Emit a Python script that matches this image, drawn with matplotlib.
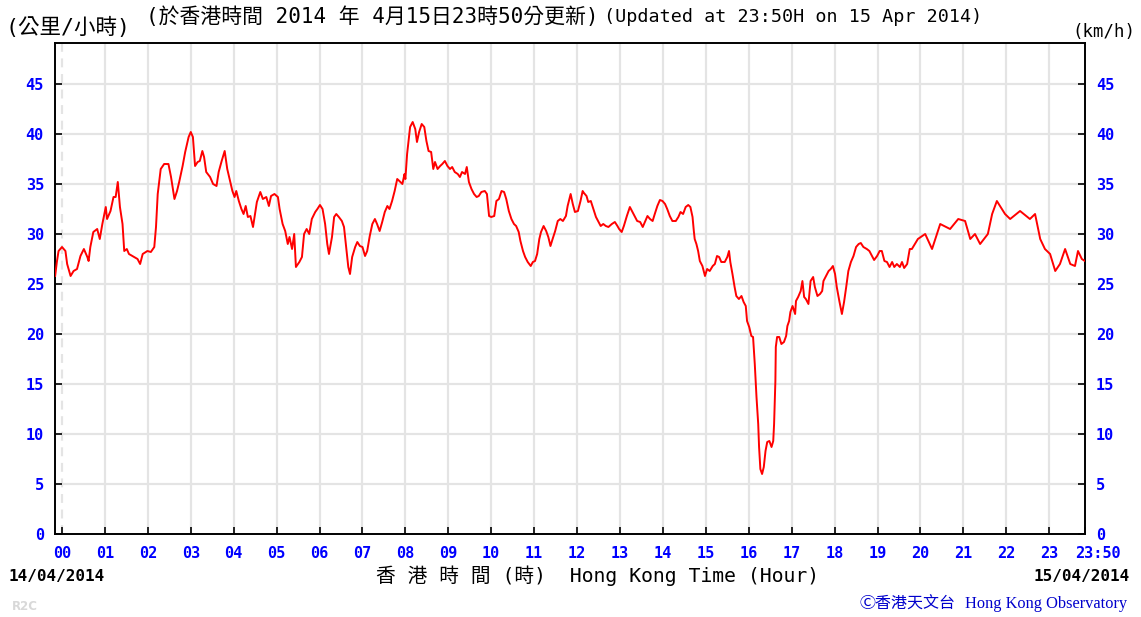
import matplotlib
matplotlib.use("Agg")
import matplotlib.pyplot as plt
from matplotlib.transforms import ScaledTranslation

# ---------------- data (hours since 00:00 14/04/2014, km/h) ----------------
hours = [
    -0.16, -0.12, -0.08, 0.00, 0.08, 0.12, 0.20, 0.27, 0.35, 0.43, 0.51, 0.59, 0.62, 0.66, 0.73, 0.82, 0.88, 0.94,
    1.02, 1.05, 1.13, 1.20, 1.25, 1.30, 1.35, 1.41, 1.45, 1.51, 1.56, 1.68, 1.76, 1.82, 1.88, 1.99,
    2.07, 2.15, 2.19, 2.23, 2.30, 2.38, 2.48, 2.54, 2.62, 2.68, 2.73, 2.81, 2.87, 2.95,
    3.00, 3.05, 3.10, 3.16, 3.21, 3.27, 3.31, 3.36, 3.45, 3.52, 3.60, 3.65, 3.72, 3.79, 3.85, 3.92, 3.97,
    4.02, 4.06, 4.12, 4.18, 4.23, 4.28, 4.33, 4.39, 4.45, 4.49, 4.54, 4.62, 4.68, 4.76, 4.82, 4.87, 4.95,
    5.03, 5.07, 5.14, 5.20, 5.26, 5.30, 5.36, 5.41, 5.45, 5.53, 5.59, 5.64, 5.70, 5.76, 5.82, 5.90, 5.95,
    6.01, 6.07, 6.13, 6.18, 6.22, 6.29, 6.34, 6.39, 6.45, 6.52, 6.57, 6.63, 6.67, 6.71, 6.76, 6.83, 6.88, 6.94,
    7.00, 7.06, 7.11, 7.17, 7.23, 7.29, 7.34, 7.40, 7.46, 7.52, 7.58, 7.63, 7.69, 7.75, 7.81, 7.86, 7.93, 7.98,
    8.00, 8.04, 8.08, 8.11, 8.17, 8.23, 8.27, 8.32, 8.38, 8.44, 8.49, 8.54, 8.60, 8.65, 8.69, 8.75, 8.81, 8.86, 8.92, 8.98,
    9.04, 9.09, 9.15, 9.22, 9.27, 9.32, 9.39, 9.43, 9.48, 9.54, 9.60, 9.66, 9.71, 9.77, 9.85, 9.90, 9.95,
    10.00, 10.07, 10.12, 10.18, 10.24, 10.30, 10.35, 10.41, 10.47, 10.53, 10.58, 10.64, 10.68, 10.74, 10.79, 10.85, 10.92, 10.97,
    11.02, 11.07, 11.12, 11.16, 11.22, 11.28, 11.33, 11.38, 11.43, 11.49, 11.55, 11.61, 11.67, 11.74, 11.78, 11.85, 11.90, 11.95,
    12.02, 12.08, 12.13, 12.16, 12.22, 12.26, 12.32, 12.38, 12.44, 12.50, 12.55, 12.61, 12.67, 12.73, 12.81, 12.88, 12.94, 12.98,
    13.04, 13.09, 13.16, 13.23, 13.29, 13.35, 13.40, 13.47, 13.53, 13.58, 13.64, 13.70, 13.76, 13.81, 13.87, 13.93, 13.99,
    14.05, 14.10, 14.16, 14.22, 14.30, 14.36, 14.41, 14.47, 14.53, 14.59, 14.64, 14.69, 14.72, 14.74, 14.78, 14.82, 14.86, 14.92, 14.98,
    15.03, 15.09, 15.16, 15.21, 15.26, 15.31, 15.36, 15.44, 15.50, 15.54, 15.57, 15.62, 15.67, 15.71, 15.77, 15.83, 15.88, 15.93, 15.96,
    16.01, 16.06, 16.10, 16.14, 16.18, 16.22, 16.24, 16.27, 16.31, 16.35, 16.39, 16.43, 16.48, 16.53, 16.57, 16.59, 16.62, 16.63,
    16.66, 16.71, 16.76, 16.82, 16.87, 16.90, 16.94, 16.97,
    17.02, 17.08, 17.10, 17.15, 17.21, 17.25, 17.29, 17.33, 17.39, 17.44, 17.50, 17.54, 17.60, 17.66, 17.71, 17.74, 17.80, 17.86, 17.91, 17.96,
    18.01, 18.05, 18.11, 18.17, 18.22, 18.27, 18.32, 18.38, 18.44, 18.50, 18.56, 18.61, 18.67, 18.75, 18.81, 18.87, 18.92, 18.99,
    19.05, 19.10, 19.16, 19.22, 19.28, 19.34, 19.39, 19.45, 19.52, 19.57, 19.62, 19.69, 19.75, 19.80, 19.94,
    20.11, 20.27, 20.46, 20.69, 20.88, 21.04, 21.16, 21.27, 21.39, 21.57, 21.67, 21.78, 21.97,
    22.09, 22.32, 22.55, 22.67, 22.79, 22.90, 23.02, 23.14, 23.25, 23.37, 23.49, 23.60, 23.67, 23.76, 23.83,
]
speed = [
    25.8, 27.2, 28.3, 28.7, 28.3, 27.0, 25.8, 26.3, 26.5, 27.8, 28.5, 27.7, 27.3, 28.7, 30.2, 30.5, 29.5, 31.0,
    32.7, 31.5, 32.3, 33.7, 33.7, 35.2, 32.7, 31.0, 28.3, 28.5, 28.0, 27.7, 27.5, 27.0, 28.0, 28.3,
    28.2, 28.7, 30.7, 34.0, 36.5, 37.0, 37.0, 35.7, 33.5, 34.3, 35.2, 36.8, 38.2, 39.7,
    40.2, 39.7, 36.8, 37.2, 37.3, 38.3, 37.7, 36.2, 35.7, 35.0, 34.8, 36.2, 37.3, 38.3, 36.5, 35.2, 34.3,
    33.7, 34.3, 33.3, 32.5, 32.0, 32.8, 31.7, 31.8, 30.7, 31.8, 33.2, 34.2, 33.5, 33.7, 32.8, 33.8, 34.0,
    33.7, 32.5, 31.0, 30.3, 29.0, 29.7, 28.5, 30.0, 26.7, 27.2, 27.7, 30.0, 30.5, 30.0, 31.5, 32.2, 32.5,
    32.9, 32.5, 31.0, 29.0, 28.0, 29.7, 31.7, 32.0, 31.7, 31.3, 30.7, 28.3, 26.7, 26.0, 27.7, 28.7, 29.2, 28.8,
    28.7, 27.8, 28.3, 29.8, 31.0, 31.5, 31.0, 30.3, 31.2, 32.2, 32.8, 32.5, 33.3, 34.3, 35.5, 35.3, 35.0, 36.0,
    35.5, 38.0, 39.5, 40.7, 41.2, 40.5, 39.2, 40.2, 41.0, 40.7, 39.3, 38.3, 38.2, 36.5, 37.2, 36.5, 36.8, 37.0, 37.3, 36.8,
    36.5, 36.7, 36.2, 36.0, 35.7, 36.2, 36.0, 36.7, 35.2, 34.5, 34.0, 33.7, 33.8, 34.2, 34.3, 34.0, 31.8,
    31.7, 31.8, 33.3, 33.5, 34.3, 34.2, 33.5, 32.3, 31.5, 31.0, 30.8, 30.2, 29.3, 28.3, 27.7, 27.2, 26.8, 27.2,
    27.3, 28.0, 29.5, 30.2, 30.8, 30.3, 29.7, 28.8, 29.5, 30.3, 31.3, 31.5, 31.3, 31.8, 32.8, 34.0, 33.0, 32.2,
    32.3, 33.3, 34.3, 34.1, 33.8, 33.2, 33.3, 32.5, 31.7, 31.2, 30.8, 31.0, 30.8, 30.7, 31.0, 31.2, 30.8, 30.5,
    30.2, 30.8, 31.8, 32.7, 32.2, 31.7, 31.3, 31.2, 30.7, 31.2, 31.8, 31.5, 31.3, 32.0, 32.8, 33.4, 33.3,
    33.0, 32.5, 31.8, 31.3, 31.3, 31.7, 32.2, 32.0, 32.7, 32.9, 32.7, 31.7, 30.3, 29.5, 29.0, 28.3, 27.3, 26.8, 25.8,
    26.5, 26.3, 26.8, 27.0, 27.8, 27.7, 27.2, 27.2, 27.7, 28.3, 27.2, 26.0, 24.7, 23.8, 23.5, 23.8, 23.2, 22.8, 21.3,
    20.7, 19.8, 19.7, 17.0, 13.7, 11.0, 8.7, 6.5, 6.0, 6.7, 8.3, 9.2, 9.3, 8.7, 9.3, 11.0, 15.3, 18.7,
    19.7, 19.7, 19.0, 19.2, 19.8, 20.8, 21.3, 22.2,
    22.8, 22.0, 23.3, 23.7, 24.3, 25.3, 23.7, 23.5, 23.0, 25.3, 25.7, 24.7, 23.8, 24.0, 24.3, 25.3, 25.8, 26.3, 26.5, 26.8,
    26.0, 24.7, 23.3, 22.0, 23.2, 24.7, 26.3, 27.2, 27.8, 28.7, 29.0, 29.1, 28.7, 28.5, 28.3, 27.8, 27.4, 27.8,
    28.3, 28.3, 27.3, 27.2, 26.7, 27.2, 26.7, 27.0, 26.7, 27.2, 26.6, 27.0, 28.5, 28.5, 29.5,
    30.0, 28.5, 31.0, 30.5, 31.5, 31.3, 29.5, 30.0, 29.0, 30.0, 32.0, 33.3, 32.0,
    31.5, 32.3, 31.5, 32.0, 29.5, 28.5, 28.0, 26.3, 27.0, 28.5, 27.0, 26.8, 28.3, 27.5, 27.3,
]

hour_ticks = list(range(24)) + [23 + 50 / 60]
hour_labels = ["%02d" % h for h in range(24)] + ["23:50"]
y_ticks = [0, 5, 10, 15, 20, 25, 30, 35, 40, 45]

# ---------------- figure ----------------
W, H = 1141, 617
fig = plt.figure(figsize=(W / 100, H / 100), dpi=100)
fig.patch.set_facecolor("white")
L, R, T, B = 55, 1085, 43, 534
ax = fig.add_axes([L / W, 1 - B / H, (R - L) / W, (B - T) / H])
ax.set_xlim(-0.163, 23 + 50 / 60)
ax.set_ylim(0, 49.1)

grid_c = "#e4e4e4"
for y in y_ticks[1:]:
    ax.axhline(y, color=grid_c, lw=1.6, zorder=0)
for h in range(1, 24):
    ax.axvline(h, color=grid_c, lw=1.6, zorder=0)
ax.axvline(0, color=grid_c, lw=1.6, ls=(0, (4, 3)), zorder=0)

ax.plot(hours, speed, color="#ff0000", lw=1.4, zorder=3)

for s in ax.spines.values():
    s.set_color("black")
    s.set_linewidth(1.4)

mono = "DejaVu Sans Mono"
tick_kw = dict(family=mono, weight="bold", size=11)
ax.set_xticks(hour_ticks)
ax.set_xticklabels(hour_labels, color="#0000ff", **tick_kw)
ax.set_yticks(y_ticks)
ax.set_yticklabels([str(v) for v in y_ticks], color="#0000ff", **tick_kw)
ax.tick_params(axis="x", direction="in", length=5, width=1.2, pad=9, top=False)
ax.tick_params(axis="y", direction="in", length=5, width=1.2, pad=8,
               right=True, labelright=True, labelleft=True)
# move "23:50" label to the right of the last tick
lab = ax.get_xticklabels()[-1]
lab.set_transform(lab.get_transform() + ScaledTranslation(13 / 100, 0, fig.dpi_scale_trans))

# ---------------- texts ----------------
cjk_mono = [mono, "Noto Sans CJK TC"]
fig.text(6 / W, 1 - 27 / H, "(公里/小時)", family=cjk_mono, size=15.5,
         va="center", ha="left", color="black")
fig.text(146 / W, 1 - 17 / H, "(於香港時間 2014 年 4月15日23時50分更新)",
         family=cjk_mono, size=15, va="center", ha="left", color="black")
fig.text(604 / W, 1 - 17 / H, "(Updated at 23:50H on 15 Apr 2014)",
         family=mono, size=13.2, va="center", ha="left", color="black")
fig.text(1135 / W, 1 - 32 / H, "(km/h)", family=mono, size=12.5, va="center", ha="right",
         color="black")
fig.text(8 / W, 1 - 576 / H, "14/04/2014", family=mono, weight="bold", size=11.5,
         va="center", ha="left", color="black")
fig.text(1130 / W, 1 - 576 / H, "15/04/2014", family=mono, weight="bold", size=11.5,
         va="center", ha="right", color="black")
fig.text(376 / W, 1 - 576 / H, "香 港 時 間 (時)  Hong Kong Time (Hour)",
         family=cjk_mono, size=14.2, va="center", ha="left", color="black")
fig.text(12 / W, 1 - 606 / H, "R2C", family="DejaVu Sans", weight="bold", size=8.5,
         va="center", ha="left", color="#d8d8d8")
fig.text(860 / W, 1 - 604 / H, "Ⓒ香港天文台", family=["Noto Sans CJK TC", "DejaVu Sans"],
         size=11.5, va="center", ha="left", color="#0000cc")
fig.text(1127 / W, 1 - 604 / H, "Hong Kong Observatory", family="Liberation Serif",
         size=11.8, va="center", ha="right", color="#0000cc")

fig.savefig("out.png", dpi=100, facecolor="white")
